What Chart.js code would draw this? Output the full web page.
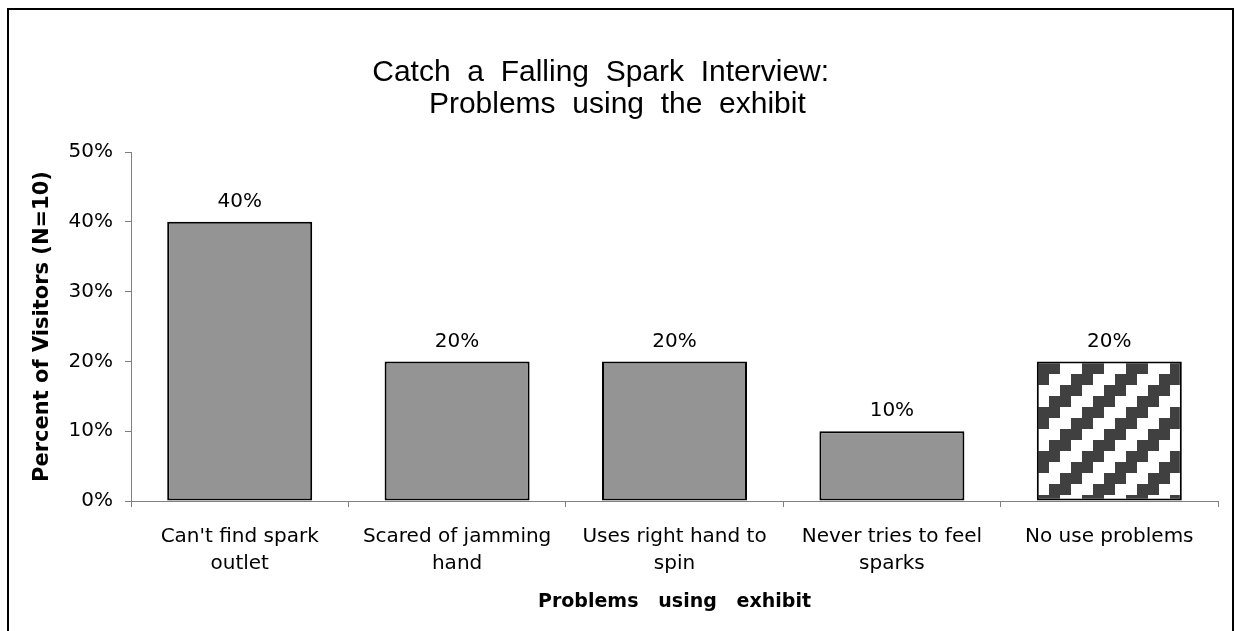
<!DOCTYPE html>
<html>
<head>
<meta charset="utf-8">
<title>Catch a Falling Spark Interview</title>
<script src="https://cdn.jsdelivr.net/npm/chart.js@4.4.0/dist/chart.umd.min.js"></script>
<style>
  html, body { margin: 0; padding: 0; background: #fff; }
  #sparkChart { display: block; }
</style>
</head>
<body>
<canvas id="sparkChart" width="1236" height="631"></canvas>
<script>
// Данные графика
const categories = [
    ["Can't find spark", "outlet"],
    ["Scared of jamming", "hand"],
    ["Uses right hand to", "spin"],
    ["Never tries to feel", "sparks"],
    "No use problems"
];
const percentVisitors = [40, 20, 20, 10, 20];
const titleLines = ['Catch  a  Falling  Spark  Interview:  ', '  Problems  using  the  exhibit'];
const xAxisTitle = 'Problems   using   exhibit';
const yAxisTitle = 'Percent of Visitors (N=10)';

// Штриховка для последнего столбца (диагональные ступеньки)
function makeStairPattern() {
    const tile = document.createElement('canvas');
    tile.width = 44;
    tile.height = 44;
    const tctx = tile.getContext('2d');
    tctx.fillStyle = '#ffffff';
    tctx.fillRect(0, 0, 44, 44);
    tctx.fillStyle = '#404040';
    const starts = [37, 26, 15, 4];
    starts.forEach((sx, r) => {
        tctx.fillRect(sx, r * 11, 22, 11);
        tctx.fillRect(sx - 44, r * 11, 22, 11);
    });
    return document.getElementById('sparkChart').getContext('2d').createPattern(tile, 'repeat');
}

const stairPattern = makeStairPattern();
const barColors = ['#949494', '#949494', '#949494', '#949494', stairPattern];

// Подписи значений над столбцами
const barLabels = {
    id: 'barLabels',
    afterDatasetsDraw(chart) {
        const ctx = chart.ctx;
        const meta = chart.getDatasetMeta(0);
        ctx.save();
        ctx.font = '20px "DejaVu Sans"';
        ctx.fillStyle = '#000';
        ctx.textAlign = 'center';
        ctx.textBaseline = 'middle';
        meta.data.forEach((bar, i) => {
            ctx.fillText(percentVisitors[i] + '%', bar.x, bar.y - 20);
        });
        ctx.restore();
    }
};

// Белый фон и рамка вокруг всего графика
const frame = {
    id: 'frame',
    beforeDraw(chart) {
        const ctx = chart.ctx;
        ctx.save();
        ctx.fillStyle = '#fff';
        ctx.fillRect(0, 0, chart.width, chart.height);
        ctx.restore();
    },
    afterDraw(chart) {
        const ctx = chart.ctx;
        ctx.save();
        ctx.strokeStyle = '#000';
        ctx.lineWidth = 2;
        ctx.strokeRect(8, 9, 1225, 700);
        ctx.restore();
    }
};

Chart.defaults.font.family = '"DejaVu Sans"';
Chart.defaults.color = '#000';

const ctx = document.getElementById('sparkChart').getContext('2d');
new Chart(ctx, {
    type: 'bar',
    data: {
        labels: categories,
        datasets: [{
            data: percentVisitors,
            backgroundColor: barColors,
            borderColor: '#000',
            borderWidth: 2,
            borderSkipped: false,
            categoryPercentage: 1,
            barPercentage: 0.667
        }]
    },
    options: {
        responsive: false,
        animation: false,
        devicePixelRatio: 1,
        layout: { padding: { left: 0, right: 18, top: 0, bottom: 0 } },
        plugins: {
            legend: { display: false },
            tooltip: { enabled: false },
            title: {
                display: true,
                text: titleLines,
                color: '#000',
                font: { family: '"Liberation Sans"', size: 30, weight: 'normal', lineHeight: '32px' },
                padding: { top: 57, bottom: 31 }
            }
        },
        scales: {
            x: {
                afterFit: s => { s.height = 130; },
                border: { color: '#808080', width: 1 },
                grid: { drawOnChartArea: false, tickLength: 6, color: '#808080' },
                ticks: { font: { size: 20, lineHeight: '27px' }, padding: 16, maxRotation: 0, autoSkip: false },
                title: {
                    display: true,
                    text: xAxisTitle,
                    font: { size: 19, weight: 'bold' },
                    padding: { top: 0, bottom: 18 }
                }
            },
            y: {
                min: 0,
                max: 50,
                afterFit: s => { s.width = 131; },
                border: { color: '#808080', width: 1 },
                grid: { drawOnChartArea: false, tickLength: 6, color: '#808080' },
                ticks: { stepSize: 10, padding: 12, font: { size: 20 }, callback: v => v + '%' },
                title: {
                    display: true,
                    text: yAxisTitle,
                    font: { size: 21, weight: 'bold' },
                    padding: { top: 30, bottom: 0 }
                }
            }
        }
    },
    plugins: [frame, barLabels]
});
</script>
</body>
</html>
